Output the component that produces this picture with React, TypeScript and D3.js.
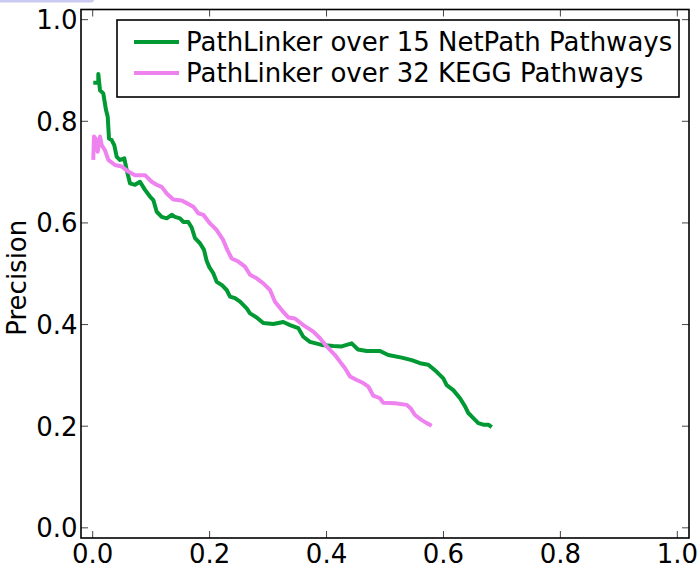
import React from "react";
import * as d3 from "d3";

const xTicks = [0.0, 0.2, 0.4, 0.6, 0.8, 1.0];
const yTicks = [0.0, 0.2, 0.4, 0.6, 0.8, 1.0];

const seriesNames = ["PathLinker over 15 NetPath Pathways", "PathLinker over 32 KEGG Pathways"];
const seriesColors = ["#009933", "#ee82ee"];

const netpathRecall = [0.001,0.0096,0.0096,0.0125,0.0181,0.0228,0.0257,0.0279,0.0325,0.0369,0.0411,0.0467,0.0541,0.0582,0.0638,0.0724,0.0809,0.0895,0.098,0.1037,0.1095,0.118,0.1266,0.1351,0.1408,0.1493,0.155,0.1635,0.1693,0.175,0.1835,0.1904,0.195,0.1995,0.2063,0.2121,0.2207,0.2292,0.2349,0.2434,0.252,0.2634,0.2691,0.2805,0.2918,0.3089,0.326,0.3375,0.3517,0.3602,0.3717,0.3917,0.4116,0.4259,0.443,0.4538,0.4687,0.4914,0.5056,0.5286,0.5457,0.5599,0.5741,0.5884,0.5997,0.6055,0.6168,0.6283,0.6369,0.6425,0.6511,0.6596,0.6681,0.6767,0.6825];
const netpathPrecision = [0.876,0.876,0.893,0.861,0.855,0.822,0.809,0.766,0.763,0.753,0.730,0.724,0.727,0.704,0.678,0.675,0.681,0.665,0.652,0.645,0.622,0.612,0.609,0.616,0.612,0.609,0.602,0.602,0.591,0.570,0.560,0.547,0.525,0.513,0.501,0.484,0.478,0.468,0.455,0.452,0.445,0.432,0.422,0.414,0.403,0.401,0.405,0.399,0.393,0.376,0.366,0.360,0.358,0.357,0.363,0.351,0.348,0.348,0.340,0.335,0.330,0.324,0.321,0.307,0.294,0.281,0.271,0.255,0.239,0.226,0.216,0.206,0.203,0.203,0.198];

const keggRecall = [0.001,0.0022,0.0068,0.0086,0.0125,0.0154,0.021,0.0267,0.0381,0.0496,0.0609,0.0724,0.0895,0.1009,0.1095,0.118,0.1266,0.1379,0.1522,0.1608,0.1721,0.1806,0.1892,0.2006,0.2121,0.2234,0.2302,0.2378,0.2491,0.2605,0.2691,0.2805,0.2918,0.3033,0.3118,0.326,0.3346,0.346,0.3602,0.3774,0.3888,0.4003,0.4145,0.423,0.4316,0.4401,0.4516,0.4629,0.4714,0.48,0.4914,0.4971,0.5171,0.5371,0.544,0.5513,0.5628,0.5713,0.5799];
const keggPrecision = [0.724,0.770,0.763,0.740,0.770,0.753,0.743,0.724,0.714,0.711,0.701,0.694,0.694,0.681,0.675,0.671,0.658,0.646,0.644,0.639,0.632,0.619,0.616,0.599,0.586,0.566,0.547,0.530,0.524,0.514,0.498,0.491,0.481,0.468,0.445,0.425,0.414,0.412,0.399,0.386,0.373,0.357,0.340,0.327,0.314,0.298,0.291,0.285,0.278,0.260,0.255,0.246,0.245,0.242,0.235,0.222,0.212,0.206,0.201];

const W = 699;
const H = 569;
const left = 81, right = 689, top = 9.5, bottom = 538;
const FONT = "DejaVu Sans, sans-serif";
const FS = 26;

export default function App() {
  const x = d3.scaleLinear().domain([-0.02, 1.02]).range([left, right]);
  const y = d3.scaleLinear().domain([-0.02, 1.02]).range([bottom, top]);
  const line = d3.line<[number, number]>().x(d => x(d[0])).y(d => y(d[1]));
  const series = [
    netpathRecall.map((r, i) => [r, netpathPrecision[i]] as [number, number]),
    keggRecall.map((r, i) => [r, keggPrecision[i]] as [number, number]),
  ];
  const tickLen = 7;
  const fmt = d3.format(".1f");
  const legRows = [42, 73];
  return (
    <svg width={W} height={H} style={{ position: "absolute", left: 0, top: 0, background: "#fff" }} fontFamily={FONT}>
      <rect x={0} y={0} width={W} height={H} fill="#fff" />
      <rect x={-4} y={-4} width={98} height={6.5} rx={3} fill="#c9c9f2" />
      {series.map((s, i) => (
        <path key={i} d={line(s) || ""} fill="none" stroke={seriesColors[i]} strokeWidth={4} strokeLinejoin="round" strokeLinecap="butt" />
      ))}
      {xTicks.map(t => (
        <g key={"x" + t}>
          <line x1={x(t)} x2={x(t)} y1={bottom} y2={bottom - tickLen} stroke="#444" strokeWidth={1} />
          <line x1={x(t)} x2={x(t)} y1={top} y2={top + tickLen} stroke="#444" strokeWidth={1} />
          <text x={x(t)} y={563} textAnchor="middle" fontSize={FS} fill="#000">{fmt(t)}</text>
        </g>
      ))}
      {yTicks.map(t => (
        <g key={"y" + t}>
          <line x1={left} x2={left + tickLen} y1={y(t)} y2={y(t)} stroke="#444" strokeWidth={1} />
          <line x1={right} x2={right - tickLen} y1={y(t)} y2={y(t)} stroke="#444" strokeWidth={1} />
          <text x={77.5} y={y(t)} dy="0.36em" textAnchor="end" fontSize={FS} fill="#000">{fmt(t)}</text>
        </g>
      ))}
      <rect x={left} y={top} width={right - left} height={bottom - top} fill="none" stroke="#000" strokeWidth={1.6} />
      <text transform={`translate(26,${(top + bottom) / 2 + 4}) rotate(-90)`} textAnchor="middle" fontSize={FS} fill="#000">Precision</text>
      <rect x={117} y={20} width={562} height={77} fill="#fff" stroke="#000" strokeWidth={1.6} />
      {seriesNames.map((n, i) => (
        <g key={n}>
          <line x1={134} x2={179} y1={legRows[i]} y2={legRows[i]} stroke={seriesColors[i]} strokeWidth={4} />
          <text x={186} y={legRows[i]} dy="0.36em" fontSize={FS} fill="#000">{n}</text>
        </g>
      ))}
    </svg>
  );
}
